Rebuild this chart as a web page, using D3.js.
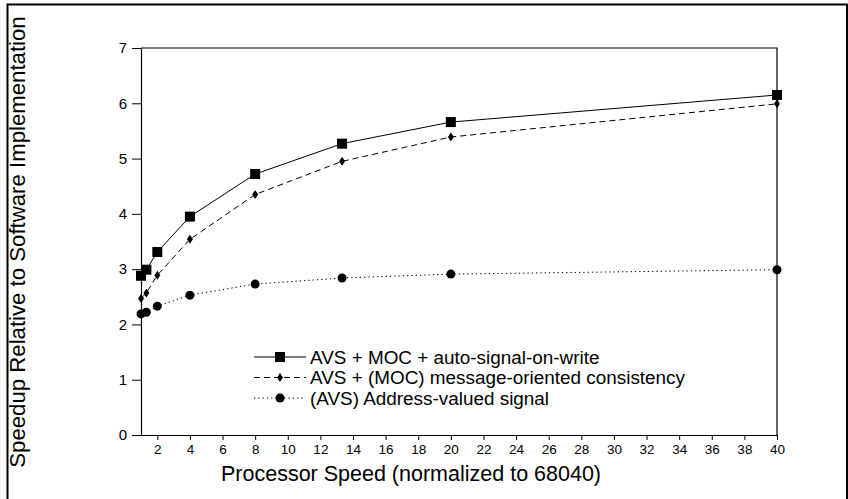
<!DOCTYPE html>
<html lang="en">
<head>
<meta charset="utf-8">
<title>Speedup chart</title>
<script src="https://d3js.org/d3.v7.min.js"></script>
<style>
  body { margin: 0; background: #fff; }
  svg { display: block; font-family: "Liberation Sans", Arial, sans-serif; }
</style>
</head>
<body>
<div id="chart"></div>
<script>
// processor speed values (normalized to 68040)
const speeds = [1, 1.33, 2, 4, 8, 13.33, 20, 40];
// speedup series
const autoSignal = [2.88, 2.99, 3.31, 3.95, 4.72, 5.27, 5.66, 6.15];
const msgOriented = [2.47, 2.57, 2.89, 3.54, 4.35, 4.95, 5.39, 5.99];
const addrValued = [2.19, 2.22, 2.33, 2.53, 2.73, 2.84, 2.91, 2.99];
const seriesNames = [
  "AVS + MOC + auto-signal-on-write",
  "AVS + (MOC) message-oriented consistency",
  "(AVS) Address-valued signal"
];
const xTicks = d3.range(2, 41, 2);
const yTicks = [0, 1, 2, 3, 4, 5, 6, 7];

const W = 848, H = 499;
const margin = { top: 48, right: 71, bottom: 64, left: 141 };
const FONT = "Liberation Sans, Arial, sans-serif";

const svg = d3.select("#chart").append("svg")
  .attr("width", W).attr("height", H);

// outer frame
svg.append("path")
  .attr("d", `M7.5,${H + 2} V4.5 H847 V${H + 2}`)
  .attr("fill", "none").attr("stroke", "#000").attr("stroke-width", 2);

const x = d3.scaleLinear().domain([1, 40]).range([margin.left, W - margin.right]);
const y = d3.scaleLinear().domain([0, 7]).range([H - margin.bottom, margin.top]);

// plot box (top + right)
svg.append("path")
  .attr("d", `M${x(1)},${y(7)} H${x(40)} V${y(0)}`)
  .attr("fill", "none").attr("stroke", "#000").attr("stroke-width", 1.2);

const xAxis = svg.append("g")
  .attr("transform", `translate(0,${y(0)})`)
  .call(d3.axisBottom(x).tickValues(xTicks).tickFormat(d3.format("d"))
    .tickSize(5).tickPadding(4).tickSizeOuter(0));
xAxis.attr("font-family", FONT).attr("font-size", 13.5);
xAxis.select(".domain").attr("stroke-width", 1.2);
xAxis.selectAll("text").attr("fill", "#000");

const yAxis = svg.append("g")
  .attr("transform", `translate(${x(1)},0)`)
  .call(d3.axisLeft(y).tickValues(yTicks).tickFormat(d3.format("d"))
    .tickSize(9).tickPadding(5).tickSizeOuter(0));
yAxis.attr("font-family", FONT).attr("font-size", 15);
yAxis.select(".domain").attr("stroke-width", 1.2);
yAxis.selectAll("text").attr("fill", "#000");

// axis titles
svg.append("text")
  .attr("x", 411).attr("y", 481)
  .attr("text-anchor", "middle").attr("font-size", 21.5)
  .text("Processor Speed (normalized to 68040)");

svg.append("text")
  .attr("transform", "translate(25,242) rotate(-90)")
  .attr("text-anchor", "middle").attr("font-size", 22.2)
  .text("Speedup Relative to Software Implementation");

const series = [
  { name: seriesNames[0], values: autoSignal, dash: null, marker: "square" },
  { name: seriesNames[1], values: msgOriented, dash: "6,4", marker: "diamond" },
  { name: seriesNames[2], values: addrValued, dash: "1.3,3", marker: "circle" }
];

const line = d3.line().x(d => x(d[0])).y(d => y(d[1]));

function drawMarker(g, kind, cx, cy) {
  if (kind === "square") {
    g.append("rect").attr("x", cx - 5).attr("y", cy - 5)
      .attr("width", 10).attr("height", 10).attr("fill", "#000");
  } else if (kind === "diamond") {
    g.append("path")
      .attr("d", `M${cx},${cy - 4.5} L${cx + 3},${cy} L${cx},${cy + 4.5} L${cx - 3},${cy} Z`)
      .attr("fill", "#000");
  } else {
    g.append("circle").attr("cx", cx).attr("cy", cy).attr("r", 4.5).attr("fill", "#000");
  }
}

const plot = svg.append("g");
series.forEach(s => {
  const pts = speeds.map((v, i) => [v, s.values[i]]);
  plot.append("path")
    .datum(pts)
    .attr("d", line)
    .attr("fill", "none").attr("stroke", "#000").attr("stroke-width", 1)
    .attr("stroke-dasharray", s.dash);
  pts.forEach(p => drawMarker(plot, s.marker, x(p[0]), y(p[1])));
});

// legend
const legend = svg.append("g");
series.forEach((s, i) => {
  const ly = 357 + i * 20.5;
  legend.append("line")
    .attr("x1", 254).attr("x2", 306).attr("y1", ly).attr("y2", ly)
    .attr("stroke", "#000").attr("stroke-width", 1)
    .attr("stroke-dasharray", s.dash);
  drawMarker(legend, s.marker, 280, ly);
  legend.append("text")
    .attr("x", 310).attr("y", ly + 6.5)
    .attr("font-size", 18.9)
    .text(s.name);
});
</script>
</body>
</html>
